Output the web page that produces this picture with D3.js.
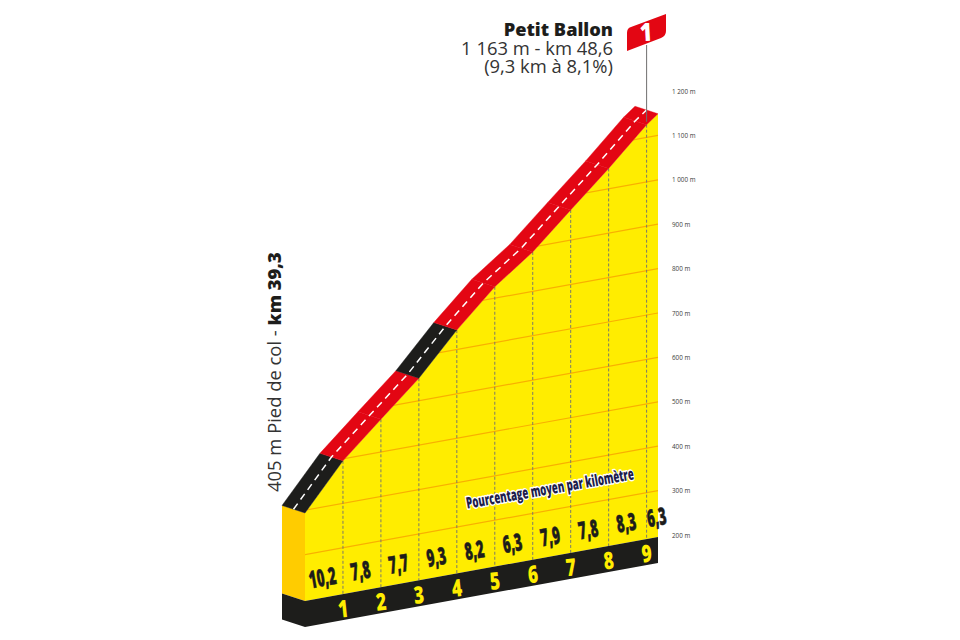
<!DOCTYPE html>
<html><head><meta charset="utf-8">
<script src="https://cdn.jsdelivr.net/npm/d3@7"></script>
<style>html,body{margin:0;background:#fff}svg{display:block}text{font-family:"Open Sans",sans-serif}</style>
</head><body><svg id="c" width="960" height="640"></svg>
<script>
const kms=[0,1,2,3,4,5,6,7,8,9,9.3];
const elevations=[405,507,585,662,755,837,900,979,1057,1140,1160];
const gradients=["10,2","7,8","7,7","9,3","8,2","6,3","7,9","7,8","8,3","6,3"];
const gradientKm=[0.5,1.5,2.5,3.5,4.5,5.5,6.5,7.5,8.5,9.3];
const segmentColors=["#1d1d1b","#e30613","#e30613","#1d1d1b","#e30613","#e30613","#e30613","#e30613","#e30613","#e30613"];
const kmTicks=[1,2,3,4,5,6,7,8,9];
const elevTicks=[200,300,400,500,600,700,800,900,1000,1100,1200];
const gridTicks=[300,400,500,600,700,800,900,1000,1100];

const svg=d3.select("#c");
const x=d3.scaleLinear().domain([0,9.3]).range([305,658]);
const yE=d3.scaleLinear().domain([200,1200]).range([535,91]);
const skew=d3.scaleLinear().domain([0,9.3]).range([64,0]);
const yy=(km,e)=>yE(e)+skew(km);
const DROP=5, BASE=195.5, RX=-23, RY=-7.5, BH=26;
const pts=kms.map((k,i)=>[x(k),yy(k,elevations[i])+DROP]);
const baseY=km=>yy(km,BASE);
const poly=p=>p.map(d=>d.join(",")).join(" ");
const yellow="#ffed00";

const area=[...pts,[x(9.3),baseY(9.3)],[x(0),baseY(0)]];
svg.append("polygon").attr("points",poly(area)).attr("fill",yellow);
svg.append("clipPath").attr("id","f").append("polygon").attr("points",poly(area));

svg.append("g").attr("clip-path","url(#f)").selectAll("line").data(gridTicks).join("line")
 .attr("x1",x(0)).attr("x2",x(9.3)).attr("y1",d=>yy(0,d)).attr("y2",d=>yy(9.3,d))
 .attr("stroke","#f9b000").attr("stroke-width",1.2);

svg.append("g").selectAll("line").data(kmTicks).join("line")
 .attr("x1",d=>x(d)).attr("x2",d=>x(d))
 .attr("y1",d=>pts[d][1]).attr("y2",d=>baseY(d))
 .attr("stroke","#7a7a6a").attr("stroke-width",1).attr("stroke-dasharray","3 2");

svg.append("polygon").attr("fill","#ffcc00").attr("points",poly([
 [x(0)+RX,pts[0][1]+RY],pts[0],[x(0),baseY(0)],[x(0)+RX,baseY(0)+RY]]));

svg.append("polygon").attr("fill","#1d1d1b").attr("points",poly([
 [x(0)+RX,baseY(0)+RY],[x(0),baseY(0)],[x(9.3),baseY(9.3)],[x(9.3),baseY(9.3)+BH],[x(0),baseY(0)+BH],[x(0)+RX,baseY(0)+BH+RY]]));

segmentColors.forEach((col,i)=>{
 const a=pts[i],b=pts[i+1];
 svg.append("polygon").attr("fill",col).attr("stroke",col).attr("stroke-width",.4)
  .attr("points",poly([a,b,[b[0]+RX,b[1]+RY],[a[0]+RX,a[1]+RY]]));
});
const mid=pts.map(p=>[p[0]+RX/2,p[1]+RY/2]);
svg.append("path").attr("d",d3.line()(mid)).attr("fill","none")
 .attr("stroke","#fff").attr("stroke-width",1.5).attr("stroke-dasharray","7 5");

const fx=x(9);
svg.append("line").attr("x1",fx).attr("x2",fx).attr("y1",45).attr("y2",pts[9][1]-3).attr("stroke","#706f6f").attr("stroke-width",1);
svg.append("path").attr("fill","#e30613")
 .attr("d","M627 51 L627 33 Q627 28 631 27 L666 14 L666 31 Q666 36 661 38 Z");
svg.append("text").attr("transform","translate(646.5,41) rotate(-3) scale(.85,1)").attr("text-anchor","middle")
 .attr("font-size",25).attr("font-weight",800).attr("fill","#fff").text("1");

svg.append("g").selectAll("text").data(gradients).join("text")
 .attr("transform",(d,i)=>`translate(${x(gradientKm[i])},${baseY(gradientKm[i])-11.5}) rotate(-10) scale(.55,1)`)
 .attr("text-anchor","middle").attr("font-size",24).attr("font-weight",800).attr("fill","#1d1d1b")
 .attr("stroke","#1d1d1b").attr("stroke-width",.5).text(d=>d);

svg.append("g").selectAll("text").data(kmTicks).join("text")
 .attr("transform",d=>`translate(${x(d)+1},${baseY(d)+23}) rotate(-6) scale(.72,1)`)
 .attr("text-anchor","middle").attr("font-size",24).attr("font-weight",800).attr("fill",yellow).text(d=>d);

const capText="Pourcentage moyen par kilomètre";
const capT="translate(551,494) rotate(-10) scale(.6,1)";
svg.append("text").attr("transform",capT).attr("text-anchor","middle").attr("font-size",16).attr("font-weight",800)
 .attr("fill","none").attr("stroke","#fff").attr("stroke-width",3).attr("stroke-linejoin","round").text(capText);
svg.append("text").attr("transform",capT).attr("text-anchor","middle").attr("font-size",16).attr("font-weight",800)
 .attr("fill","#1d1d4b").text(capText);

const fmt=d=>(d>=1000?"1 "+String(d-1000).padStart(3,"0"):d)+" m";
svg.append("g").selectAll("text").data(elevTicks).join("text")
 .attr("x",672).attr("y",d=>yE(d)+2.5).attr("font-size",6.3).attr("fill","#3c3c3b").text(fmt);

const t=svg.append("g").attr("text-anchor","end").attr("fill","#1d1d1b");
t.append("text").attr("x",613).attr("y",36).attr("font-size",18.2).attr("font-weight",800).text("Petit Ballon");
t.append("text").attr("x",613).attr("y",55).attr("font-size",18.4).attr("fill","#333").text("1 163 m - km 48,6");
t.append("text").attr("x",613).attr("y",73).attr("font-size",18.4).attr("fill","#333").text("(9,3 km à 8,1%)");
const s=svg.append("text").attr("transform","translate(281,492) rotate(-90)").attr("font-size",18.4).attr("fill","#333");
s.append("tspan").text("405 m Pied de col - ");
s.append("tspan").attr("font-weight",800).attr("fill","#1d1d1b").text("km 39,3");
</script></body></html>
